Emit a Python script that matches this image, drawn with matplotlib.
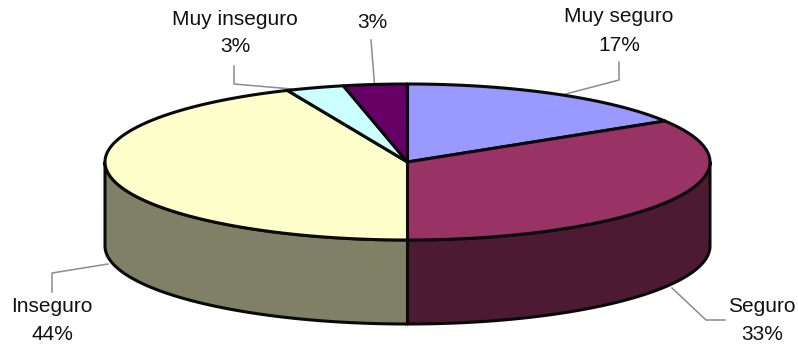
#!/usr/bin/env python3
# -*- coding: utf-8 -*-
import matplotlib
matplotlib.use("Agg")
import matplotlib.pyplot as plt
from matplotlib.patches import Polygon
import numpy as np

# data
labels = ["Muy seguro", "Seguro", "Inseguro", "Muy inseguro", ""]
percents = [17, 33, 44, 3, 3]
# slice sizes as drawn in the picture, they differ a bit from the printed labels
shares = [16.2, 33.8, 43.5, 3.1, 3.4]
top_colors = ["#9999FF", "#993366", "#FFFFCC", "#CCFFFF", "#660066"]
side_colors = ["#4D4D80", "#4D1A33", "#808066", "#668080", "#330033"]

# pie geometry in pixels
CX, CY = 407.5, 162
RX, RY = 302.5, 78
DEPTH = 84
EDGE = "#0a0a0a"
LW = 2.2

# label centres and leader paths, same order as labels
label_pos = [(619, 16, 45), (762, 307, 335), (52, 307, 335), (235, 19, 46), (372, None, 22)]
leaders = [
    [(562, 95), (619, 80), (619, 62)],
    [(672, 288), (706, 320), (725, 320)],
    [(108, 264), (52, 273), (52, 292)],
    [(292, 89), (234, 84), (234, 66)],
    [(374.5, 84), (371, 40)],
]


def rim(a0, a1, dy=0.0):
    """Points on the ellipse, angles clockwise from 12 o'clock in degrees."""
    t = np.radians(np.linspace(a0, a1, max(int(abs(a1 - a0)) * 2, 2)))
    return np.column_stack([CX + RX * np.sin(t), CY - RY * np.cos(t) + dy])


plt.rcParams["font.family"] = ["Liberation Sans", "DejaVu Sans"]
fig = plt.figure(figsize=(7.98, 3.47), dpi=100)
ax = fig.add_axes([0, 0, 1, 1])
ax.set_xlim(0, 798)
ax.set_ylim(347, 0)
ax.axis("off")

edges = np.cumsum([0] + shares) / sum(shares) * 360

# side wall, only the front half of the ellipse shows
for i in range(len(shares)):
    a0, a1 = max(edges[i], 90), min(edges[i + 1], 270)
    if a1 <= a0:
        continue
    pts = np.vstack([rim(a0, a1), rim(a0, a1, DEPTH)[::-1]])
    ax.add_patch(Polygon(pts, closed=True, facecolor=side_colors[i],
                         edgecolor=EDGE, linewidth=LW, joinstyle="round", zorder=2))

# top face
for i in range(len(shares)):
    pts = np.vstack([[(CX, CY)], rim(edges[i], edges[i + 1])])
    ax.add_patch(Polygon(pts, closed=True, facecolor=top_colors[i],
                         edgecolor=EDGE, linewidth=LW, joinstyle="round", zorder=3))

# leaders
for path in leaders:
    xs, ys = zip(*path)
    ax.plot(xs, ys, color="#8c8c8c", linewidth=1.1, zorder=1)

# labels
for name, pct, (x, y1, y2) in zip(labels, percents, label_pos):
    if name:
        ax.text(x, y1, name, ha="center", va="center", fontsize=15, color="#111111")
    ax.text(x, y2, f"{pct}%", ha="center", va="center", fontsize=15, color="#111111")

fig.savefig("out.png", dpi=100, facecolor="white")
